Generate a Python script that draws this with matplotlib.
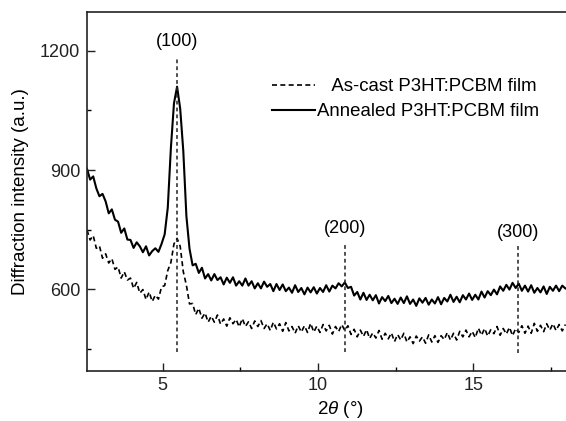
import numpy as np
import matplotlib
matplotlib.use("Agg")
import matplotlib.pyplot as plt

plt.rcParams['font.family'] = ['Liberation Sans', 'DejaVu Sans']
plt.rcParams['mathtext.fontset'] = 'custom'
plt.rcParams['mathtext.it'] = 'Liberation Sans:italic'
plt.rcParams['mathtext.rm'] = 'Liberation Sans'

# sampling grid of 2theta (deg)
x_start = 2.56
x_step = 0.1

# Annealed P3HT:PCBM film (solid)
annealed = [
    903, 876, 884, 854, 834, 840, 821, 791, 801, 775,
    770, 742, 753, 725, 724, 704, 718, 708, 693, 708,
    685, 696, 703, 694, 714, 738, 805, 955, 1068, 1110,
    1055, 948, 784, 702, 660, 664, 641, 654, 627, 638,
    622, 638, 623, 630, 612, 629, 616, 630, 609, 620,
    609, 627, 609, 620, 602, 615, 602, 619, 606, 613,
    595, 613, 598, 612, 595, 604, 591, 610, 593, 603,
    587, 604, 592, 605, 589, 603, 593, 610, 594, 609,
    602, 615, 607, 617, 603, 606, 584, 593, 574, 591,
    573, 586, 572, 585, 564, 580, 570, 583, 565, 576,
    563, 579, 565, 582, 563, 574, 558, 577, 566, 578,
    561, 574, 564, 580, 562, 578, 569, 586, 568, 581,
    567, 585, 574, 589, 573, 586, 574, 594, 579, 595,
    585, 599, 587, 607, 596, 611, 599, 616, 603, 614,
    596, 609, 594, 610, 591, 603, 592, 607, 588, 606,
    596, 609, 595, 609, 602,
]

# As-cast P3HT:PCBM film (dashed)
as_cast = [
    749, 724, 735, 703, 709, 678, 689, 666, 677, 650,
    656, 628, 644, 623, 628, 602, 617, 590, 599, 574,
    593, 569, 585, 575, 606, 609, 647, 667, 714, 728,
    708, 644, 610, 563, 564, 536, 552, 527, 540, 517,
    532, 517, 535, 512, 525, 507, 528, 513, 524, 505,
    526, 506, 518, 501, 520, 506, 521, 501, 513, 496,
    517, 500, 513, 494, 516, 495, 506, 489, 508, 492,
    508, 491, 514, 492, 507, 491, 511, 495, 509, 487,
    506, 493, 511, 496, 508, 486, 499, 480, 497, 481,
    498, 476, 490, 477, 496, 474, 489, 475, 490, 468,
    486, 472, 489, 467, 480, 463, 482, 469, 480, 464,
    485, 467, 483, 466, 483, 473, 491, 472, 489, 472,
    494, 480, 497, 480, 494, 478, 502, 484, 501, 482,
    498, 488, 506, 484, 501, 487, 504, 483, 501, 491,
    508, 489, 507, 489, 514, 494, 509, 493, 513, 497,
    513, 496, 511, 495, 511,
]

# peak markers
peak_pos = [5.46, 10.86, 16.43]
peak_labels = ["(100)", "(200)", "(300)"]
peak_line_top = [1185, 717, 717]
peak_line_bottom = [443, 443, 440]
peak_label_y = [1224, 754, 744]

x_a = x_start + x_step * np.arange(len(annealed))
x_c = x_start + x_step * np.arange(len(as_cast))

fig = plt.figure(figsize=(5.66, 4.21), dpi=100)
# axes extend past the right figure edge (cropped like the reference)
ax = fig.add_axes([87 / 566, 50 / 421, (593 - 87) / 566, (409 - 50) / 421])

ax.plot(x_c, as_cast, color='black', lw=1.2, ls=(0, (3.0, 2.0)),
        label='   As-cast P3HT:PCBM film')
ax.plot(x_a, annealed, color='black', lw=1.5, ls='-',
        label='Annealed P3HT:PCBM film')

for xp, lab, yt, yb, yl in zip(peak_pos, peak_labels, peak_line_top,
                                peak_line_bottom, peak_label_y):
    ax.plot([xp, xp], [yb, yt], color='#222222', lw=1.1, ls=(0, (2.5, 2)))
    ax.text(xp, yl, lab, ha='center', va='center', fontsize=13)

ax.set_xlim(2.56, 18.85)
ax.set_ylim(394, 1298)
ax.set_xticks([5, 10, 15])
ax.set_xticks([7.5, 12.5, 17.5], minor=True)
ax.set_yticks([600, 900, 1200])
ax.set_yticks([450, 750, 1050], minor=True)

ax.tick_params(axis='both', which='major', direction='in', length=5.5,
               width=1.0, labelsize=13, pad=5, colors='#222222')
ax.tick_params(axis='both', which='minor', direction='in', length=3,
               width=1.0)
ax.tick_params(axis='x', which='major', pad=4)
for s in ax.spines.values():
    s.set_linewidth(1.2)
    s.set_color('#222222')

ax.set_xlabel(r'2$\it{\theta}$ (°)', fontsize=13.5, labelpad=4)
ax.set_ylabel('Diffraction intensity (a.u.)', fontsize=13.5, labelpad=8)

leg = ax.legend(loc='upper left', bbox_to_anchor=((272 - 87) / 506, 1 - 66 / 359),
                frameon=False, fontsize=13.4, handlelength=2.3,
                handletextpad=0.1, labelspacing=0.45, borderpad=0,
                borderaxespad=0)

fig.savefig('out.png', dpi=100)
